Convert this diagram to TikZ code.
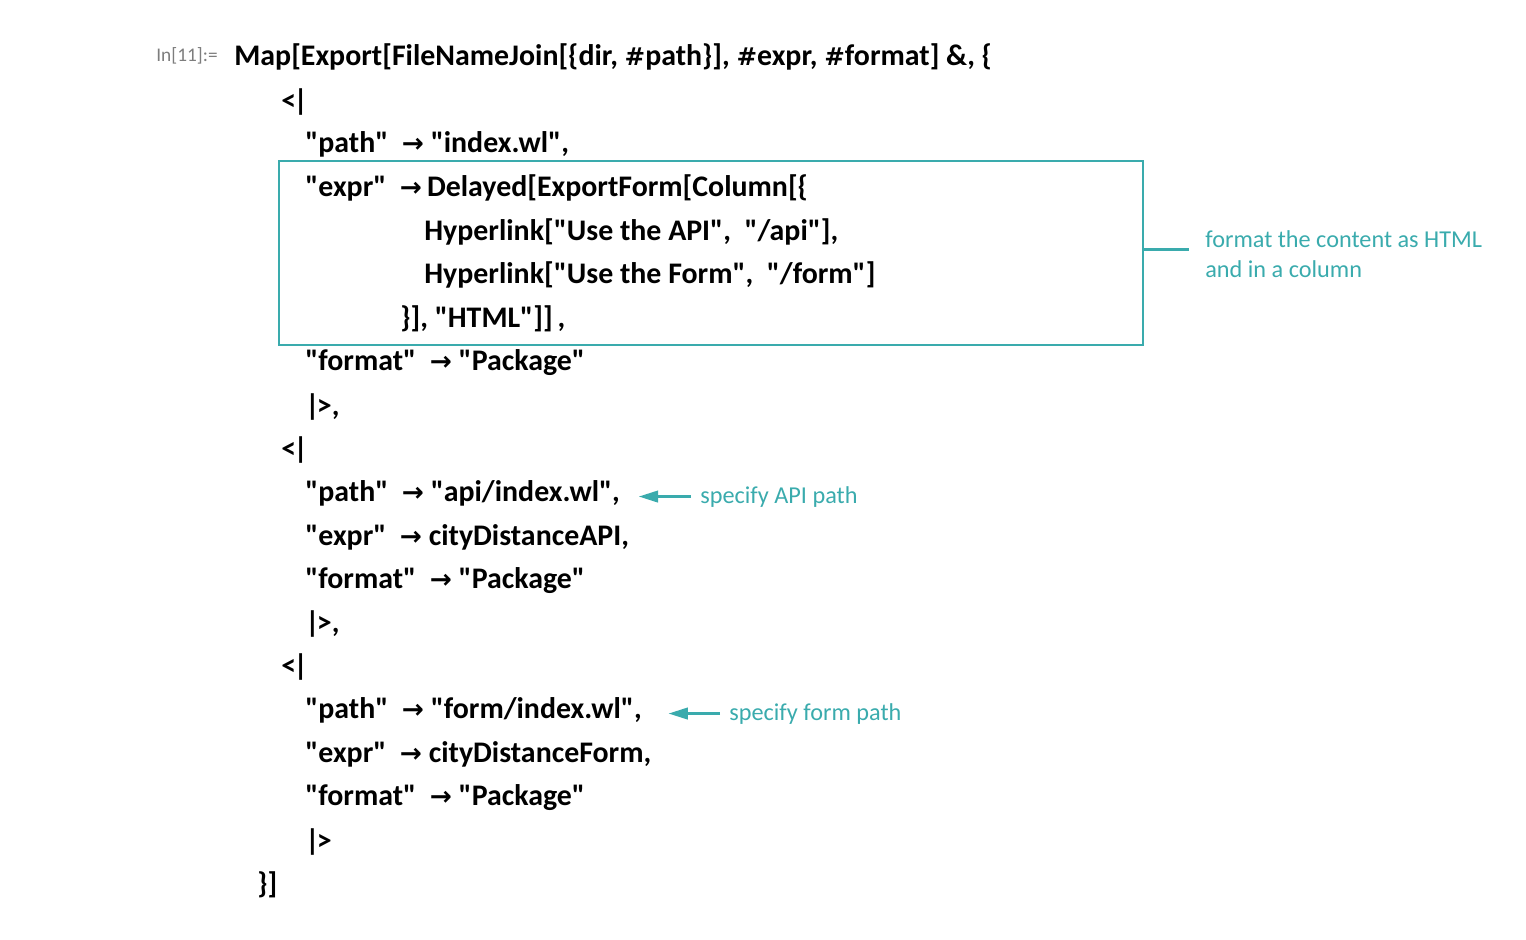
\documentclass[tikz,border=0pt]{standalone}
\usepackage{fontspec}
\setmainfont{Carlito}[Ligatures=TeXOff]
\newfontfamily\arrowfont{DejaVu Sans}
\usetikzlibrary{positioning,fit,arrows.meta}
\definecolor{noteteal}{RGB}{58,171,173}
\definecolor{promptgray}{RGB}{125,125,125}
\newcommand{\rarr}{{\arrowfont\bfseries\fontsize{15pt}{15pt}\selectfont →}}
\newcommand{\slot}{{\arrowfont\bfseries\fontsize{14pt}{14pt}\selectfont\#}}
\newcommand{\assocopen}{<\kern-1.5pt|}
\newcommand{\assocclose}{|\kern-1.5pt>}
\tikzset{x=0.02cm, y=-0.02cm, % one unit is one pixel of the screenshot
code/.style={anchor=base west, inner sep=0pt, font=\bfseries\fontsize{17pt}{20pt}\selectfont}, % code lines
note/.style={anchor=base west, inner sep=0pt, text=noteteal, font=\fontsize{13.8pt}{17pt}\selectfont}, % comments
}

\begin{document}
\begin{tikzpicture}[
	notearrow/.style={draw=noteteal, line width=1.5pt, -{Triangle[length=11pt,width=6.5pt]}},
	noteline/.style={draw=noteteal, line width=1.3pt}]
\useasboundingbox (0,0) rectangle (1526,940);
\node[anchor=base west, inner sep=0pt, text=promptgray, font=\fontsize{11pt}{13pt}\selectfont] (prompt) at (156,61) {In[11]:=};
\node[code] (map) at (234,65) {Map[Export[FileNameJoin[\{dir, \slot path\}], \slot expr, \slot format] \&, \{};
\node[code] (open1) at (281,110) {\assocopen};
\node[code] (path1) at (305,152) {"path" \ \rarr\ "index.wl",};
\node[code] (expr1) at (305,196) {"expr" \ \rarr\,Delayed[ExportForm[Column[\{};
\node[code] (link1) at (424,240) {Hyperlink["Use the API", \ "/api"],};
\node[code] (link2) at (424,283) {Hyperlink["Use the Form", \ "/form"]};
\node[code] (html) at (400,327) {\}], "HTML"]]\,,};
\node[code] (format1) at (305,370) {"format" \ \rarr\ "Package"};
\node[code] (close1) at (305,415) {\assocclose,};
\node[code] (open2) at (281,458) {\assocopen};
\node[code] (path2) at (305,501) {"path" \ \rarr\ "api/index.wl",};
\node[code] (expr2) at (305,545) {"expr" \ \rarr\ cityDistanceAPI,};
\node[code] (format2) at (305,588) {"format" \ \rarr\ "Package"};
\node[code] (close2) at (305,632) {\assocclose,};
\node[code] (open3) at (281,675) {\assocopen};
\node[code] (path3) at (305,718) {"path" \ \rarr\ "form/index.wl",};
\node[code] (expr3) at (305,762) {"expr" \ \rarr\ cityDistanceForm,};
\node[code] (format3) at (305,805) {"format" \ \rarr\ "Package"};
\node[code] (close3) at (305,850) {\assocclose};
\node[code] (end) at (257,893) {\}]};
% box round the expr entry
\coordinate (boxtl) at (279,161);
\coordinate (boxbr) at (1143,345);
\node[fit=(boxtl)(boxbr), inner sep=0pt, draw=noteteal, line width=1.4pt] (htmlbox) {};
\node[note, align=left] (htmlnote) at (1205,277) {format the content as HTML\\and in a column};
\node[note] (apinote) at (700,503) {specify API path};
\node[note] (formnote) at (729,720) {specify form path};
\draw[noteline, shorten >=9pt] ([yshift=2pt]htmlbox.east) -- ([yshift=2pt]htmlbox.east -| htmlnote.west);
\draw[notearrow, shorten <=5pt, shorten >=10.5pt] (apinote.west) -- (apinote.west -| path2.east);
\draw[notearrow, shorten <=5pt, shorten >=15pt] (formnote.west) -- (formnote.west -| path3.east);
\end{tikzpicture}
\end{document}
